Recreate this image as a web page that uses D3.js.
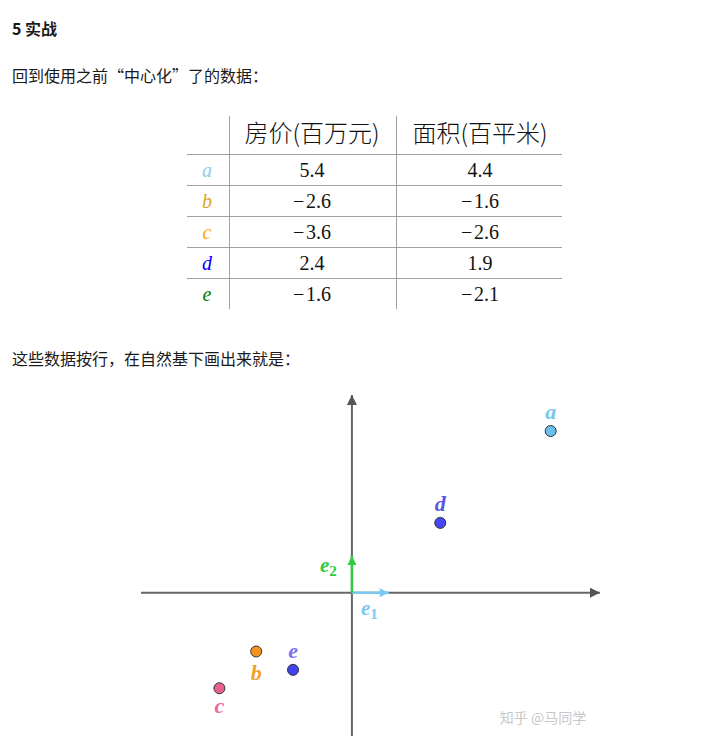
<!DOCTYPE html>
<html><head><meta charset="utf-8">
<script src="https://cdn.jsdelivr.net/npm/d3@7/dist/d3.min.js"></script>
<style>
html,body{margin:0;padding:0;background:#fff;}
svg{display:block;}
</style></head>
<body>
<svg id="c" width="708" height="736"></svg>
<script>
// ---- data ----
const names = ["a","b","c","d","e"];
const price = [5.4, -2.6, -3.6, 2.4, -1.6];   // 房价(百万元)
const area  = [4.4, -1.6, -2.6, 1.9, -2.1];   // 面积(百平米)
const headers = ["房价(百万元)", "面积(百平米)"];
const tableNameColors = ["#87ceeb","#daa520","#ffa500","#0000ff","#008000"];
const pointFill = ["#66c2ea","#f39320","#e9628f","#4646f5","#4242ee"];
const labelColors = ["#78c6ee","#f2a12a","#e86a9e","#5a55e6","#7a74f0"];
const labelPos = ["above","below","below","above","above"];

const svg = d3.select("#c");
const cjk = "'Noto Sans CJK SC','Noto Sans',sans-serif";
const serif = "'Liberation Serif','DejaVu Serif',serif";

// ---- text paragraphs ----
svg.append("text").attr("x",12).attr("y",35).attr("font-family",cjk).attr("font-size",16)
  .attr("font-weight","bold").attr("fill","#1a1a1a").text("5 实战");
svg.append("text").attr("x",12).attr("y",82).attr("font-family",cjk).attr("font-size",16)
  .attr("fill","#1a1a1a").text("回到使用之前“中心化”了的数据：");
svg.append("text").attr("x",12).attr("y",365).attr("font-family",cjk).attr("font-size",16)
  .attr("fill","#1a1a1a").text("这些数据按行，在自然基下画出来就是：");

// ---- table ----
const colX = d3.scaleOrdinal().domain(["name","price","area"]).range([207, 312, 480]);
const headerTop = 116, headerBottom = 154, rowH = 31;
const ry = d3.scaleLinear().domain([0, names.length]).range([headerBottom, headerBottom + rowH*names.length]);
const tbl = svg.append("g");
const lineCol = "#a0a0a0";
tbl.selectAll("line.h").data(d3.range(names.length)).join("line")
  .attr("x1",187).attr("x2",562).attr("y1",i=>ry(i)+0.5).attr("y2",i=>ry(i)+0.5)
  .attr("stroke",lineCol).attr("stroke-width",1);
tbl.selectAll("line.v").data([229.5, 396.5]).join("line")
  .attr("x1",d=>d).attr("x2",d=>d).attr("y1",headerTop).attr("y2",ry(names.length))
  .attr("stroke",lineCol).attr("stroke-width",1);
tbl.selectAll("text.hd").data(headers).join("text")
  .attr("x",(d,i)=>colX(i===0?"price":"area")).attr("y",142)
  .attr("text-anchor","middle").attr("font-family",cjk).attr("font-size",24)
  .attr("font-weight",300).attr("fill","#111").text(d=>d);
const fmt = v => (v<0 ? "\u2212\u200A" : "") + Math.abs(v).toFixed(1);
names.forEach((n,i)=>{
  const yb = ry(i) + 23;
  tbl.append("text").attr("x",colX("name")).attr("y",yb).attr("text-anchor","middle")
    .attr("font-family",serif).attr("font-style","italic").attr("font-size",20)
    .attr("fill",tableNameColors[i]).text(n);
  tbl.append("text").attr("x",colX("price")).attr("y",yb).attr("text-anchor","middle")
    .attr("font-family",serif).attr("font-size",20).attr("fill","#111").text(fmt(price[i]));
  tbl.append("text").attr("x",colX("area")).attr("y",yb).attr("text-anchor","middle")
    .attr("font-family",serif).attr("font-size",20).attr("fill","#111").text(fmt(area[i]));
});

// ---- scatter ----
const x = d3.scaleLinear().domain([-5.73, 6.74]).range([141, 600]);
const y = d3.scaleLinear().domain([-3.9, 5.38]).range([736, 395]);
const defs = svg.append("defs");
function marker(id, color, w, h){
  defs.append("marker").attr("id",id).attr("viewBox","0 0 10 10").attr("refX",10).attr("refY",5)
    .attr("markerUnits","userSpaceOnUse").attr("markerWidth",w).attr("markerHeight",h)
    .attr("orient","auto").append("path").attr("d","M0,0 L10,5 L0,10 z").attr("fill",color);
}
marker("ax","#555",14,10);
marker("e1","#7cc8f0",13,9);
marker("e2","#2ecc40",13,9);
const g = svg.append("g");
const axCol = "#666";
g.append("line").attr("x1",x(-5.73)).attr("x2",x(6.74)).attr("y1",y(0)).attr("y2",y(0))
  .attr("stroke",axCol).attr("stroke-width",2).attr("marker-end","url(#ax)");
g.append("line").attr("x1",x(0)).attr("x2",x(0)).attr("y1",y(-3.9)).attr("y2",y(5.38))
  .attr("stroke",axCol).attr("stroke-width",2).attr("marker-end","url(#ax)");
g.append("line").attr("x1",x(0)).attr("x2",x(1)).attr("y1",y(0)).attr("y2",y(0))
  .attr("stroke","#7cc8f0").attr("stroke-width",2.5).attr("marker-end","url(#e1)");
g.append("line").attr("x1",x(0)).attr("x2",x(0)).attr("y1",y(0)).attr("y2",y(1))
  .attr("stroke","#2ecc40").attr("stroke-width",2.5).attr("marker-end","url(#e2)");
const e1t = g.append("text").attr("x",x(0)+9).attr("y",y(0)+22).attr("font-family",serif)
  .attr("font-style","italic").attr("font-weight","bold").attr("font-size",21).attr("fill","#7cc8f0");
e1t.append("tspan").text("e");
e1t.append("tspan").attr("dy",4).attr("font-size",15).attr("font-style","normal").text("1");
const e2t = g.append("text").attr("x",x(0)-32).attr("y",y(0)-21).attr("font-family",serif)
  .attr("font-style","italic").attr("font-weight","bold").attr("font-size",21).attr("fill","#2ecc40");
e2t.append("tspan").text("e");
e2t.append("tspan").attr("dy",4).attr("font-size",15).attr("font-style","normal").text("2");

g.selectAll("circle.pt").data(names).join("circle")
  .attr("cx",(d,i)=>x(price[i])).attr("cy",(d,i)=>y(area[i])).attr("r",5.5)
  .attr("fill",(d,i)=>pointFill[i]).attr("stroke","#333").attr("stroke-width",1);
g.selectAll("text.pl").data(names).join("text")
  .attr("x",(d,i)=>x(price[i])).attr("y",(d,i)=>y(area[i]) + (labelPos[i]==="above" ? -12 : (d==="b"?29:25)))
  .attr("text-anchor","middle").attr("font-family",serif).attr("font-style","italic")
  .attr("font-weight","bold").attr("font-size",22).attr("fill",(d,i)=>labelColors[i]).text(d=>d);

svg.append("text").attr("x",543).attr("y",723).attr("text-anchor","middle").attr("font-family",cjk)
  .attr("font-size",14).attr("fill","#c8c8c8").text("知乎 @马同学");
</script>
</body></html>
